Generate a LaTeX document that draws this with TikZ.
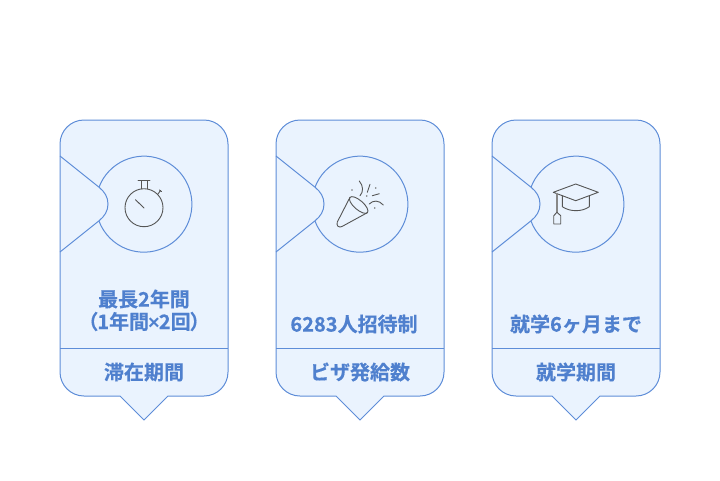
\documentclass[tikz,border=0pt]{standalone}
\usepackage{fontspec}
\setmainfont{Noto Sans CJK JP}[BoldFont={Noto Sans CJK JP Bold},BoldFeatures={FakeBold=0.4}]
\newfontfamily\latinbold{Liberation Sans}
\definecolor{cardfill}{HTML}{EAF3FE}
\definecolor{cardline}{HTML}{5E8DD8}
\definecolor{cardtext}{HTML}{4F80CE}
\definecolor{icon}{HTML}{555555}
\tikzset{
  cardline/.style={draw=cardline,line width=1pt},
  iconline/.style={draw=icon,line width=0.9pt,line cap=round,line join=round},
  cardlabel/.style={text=cardtext,font=\bfseries\fontsize{20}{24}\selectfont,align=center,inner sep=0pt},
}
\newcommand{\cardbase}[1]{%
  \begin{scope}[shift={(#1,0)}]
    \path[fill=cardfill,cardline] (60,144) arc[start angle=180,end angle=90,x radius=24,y radius=-24]
      -- (204,120) arc[start angle=90,end angle=0,x radius=24,y radius=-24]
      -- (228,372) arc[start angle=0,end angle=-90,x radius=24,y radius=-24]
      -- (168,396) -- (144,420) -- (120,396) -- (84,396)
      arc[start angle=-90,end angle=-180,x radius=24,y radius=-24] -- cycle;
    \draw[cardline] (60,348) -- (228,348);
    \draw[cardline] (99,187.2) arc[start angle=159.3,end angle=-159.3,radius=48,y radius=-48];
    \draw[cardline] (60,156) -- (99,187.2) .. controls (104.5,191.6) and (108,197) .. (108,204)
      .. controls (108,211) and (104.5,216.4) .. (99,220.8) -- (60,252);
  \end{scope}}
\begin{document}
\begin{tikzpicture}[x=1pt,y=-1pt]
\useasboundingbox (0,0) rectangle (720,480);
\cardbase{0}
\cardbase{216}
\cardbase{432}
% stopwatch
\draw[iconline] (144,207.7) circle[radius=19];
\draw[iconline] (138,180.7) -- (150,180.7) (141,181) -- (141,188.8) (147,181) -- (147,188.8);
\draw[iconline] (158,194) -- (160.5,190.5) (159.5,190) -- (161.5,191.5);
\draw[iconline] (135.5,199.7) -- (144,208);
% party popper
\draw[iconline] (350,197.3) -- (337.3,222) .. controls (336,226) and (339,228) .. (342,226.5) -- (367.3,212.7);
\draw[iconline,rotate around={-41:(358.7,205)}] (358.7,205) ellipse[x radius=11.6,y radius=4.6];
\draw[iconline] (359.3,181) .. controls (363.5,186) and (363.5,192) .. (360,195.7);
\draw[iconline] (370,184.3) -- (367.3,192.3);
\draw[iconline] (372.3,195.7) -- (379.3,193.7);
\draw[iconline] (369.3,204) .. controls (373,200) and (379,200) .. (383.3,205);
\foreach \dx/\dy in {352/190,375.7/188,366.7/196,374.7/208}
  \fill[icon!80] (\dx,\dy) circle[radius=0.9];
% graduation cap
\draw[iconline] (553.3,192.3) -- (575.7,184) -- (598.3,192.3) -- (575.7,200.7) -- cycle;
\draw[iconline] (562.3,195.7) -- (562.3,206.7) .. controls (570,212) and (582,212) .. (589.3,206.7) -- (589.3,195.7);
\draw[iconline,draw=icon!70,line width=1.1pt] (557,193.3) -- (557,212.3);
\draw[iconline] (553.7,224) -- (553.7,215.7) -- (557,212.3) -- (560.7,215.7) -- (560.7,224) -- cycle;
% labels
\node[cardlabel] (a1) at (144,299) {最長2年間};
\node[cardlabel] (a2) at (144,321.5) {（\kern-1pt 1年間\kern-1pt{\latinbold\bfseries ×}\kern-1pt 2回\kern-1pt）};
\node[cardlabel] (a3) at (144,372) {滞在期間};
\node[cardlabel] (b1) at (354,324) {6283人招待制};
\node[cardlabel] (b2) at (360,372) {ビザ発給数};
\node[cardlabel] (c1) at (576,324) {就学6ヶ月まで};
\node[cardlabel] (c2) at (576,372) {就学期間};
\end{tikzpicture}
\end{document}
